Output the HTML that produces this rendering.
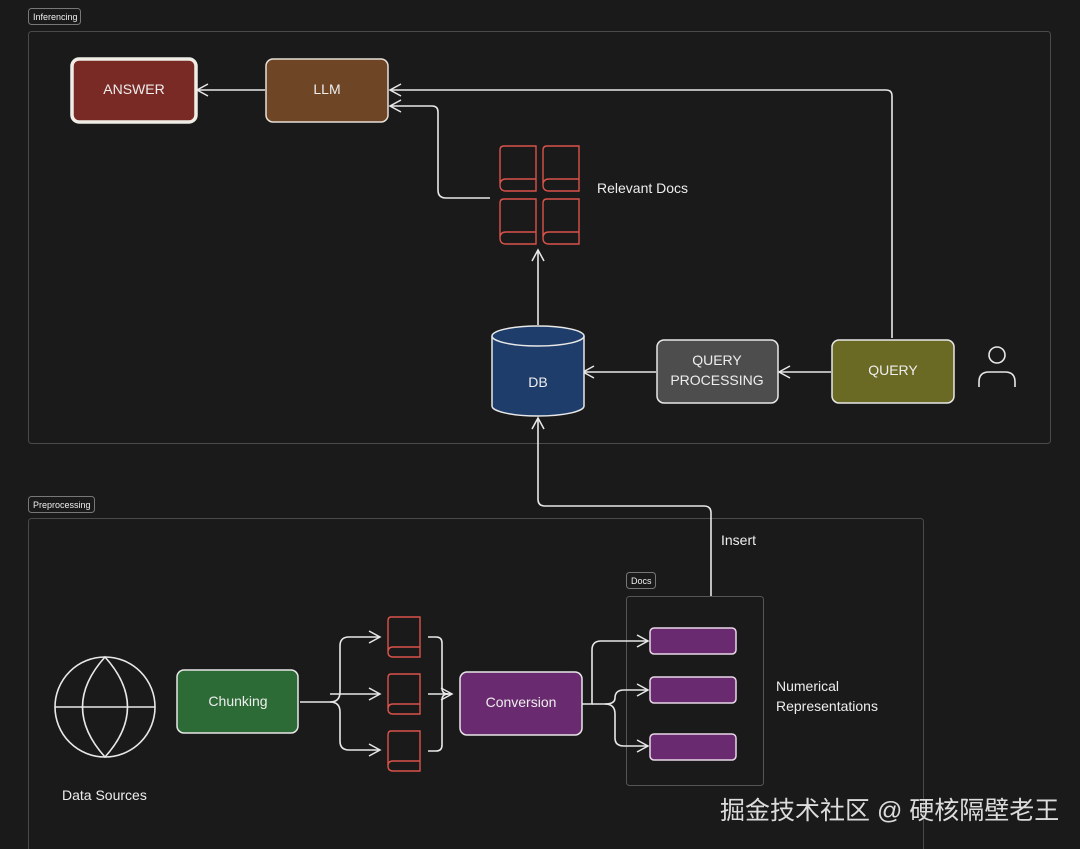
<!DOCTYPE html>
<html><head><meta charset="utf-8"><style>
html,body{margin:0;padding:0;background:#1a1a1a;}
svg{display:block}
text{font-family:"Liberation Sans",sans-serif;fill:#eeeeee}
</style></head><body>
<svg width="1080" height="849" viewBox="0 0 1080 849" xmlns="http://www.w3.org/2000/svg">
<rect width="1080" height="849" fill="#1a1a1a"/>
<defs>
<marker id="ar" markerWidth="14" markerHeight="14" refX="12" refY="7" orient="auto" markerUnits="userSpaceOnUse">
<path d="M1 1 L12 7 L1 13" fill="none" stroke="#e8e8e8" stroke-width="1.5"/>
</marker>
</defs>
<rect x="28.5" y="8.5" width="52" height="16" rx="3" fill="none" stroke="#777" stroke-width="1"/>
<text x="33" y="20" font-size="9">Inferencing</text>
<rect x="28.5" y="31.5" width="1022" height="412" rx="3" fill="none" stroke="#4a4a4a" stroke-width="1"/>
<rect x="28.5" y="496.5" width="66" height="16" rx="3" fill="none" stroke="#777" stroke-width="1"/>
<text x="33" y="508" font-size="9">Preprocessing</text>
<rect x="28.5" y="518.5" width="895" height="340" rx="3" fill="none" stroke="#4a4a4a" stroke-width="1"/>
<rect x="626.5" y="572.5" width="29" height="16" rx="3" fill="none" stroke="#777" stroke-width="1"/>
<text x="631" y="584" font-size="9">Docs</text>
<rect x="626.5" y="596.5" width="137" height="189" rx="3" fill="none" stroke="#555" stroke-width="1"/>

<g fill="none" stroke="#e8e8e8" stroke-width="1.6">
<path d="M265 90 H197" marker-end="url(#ar)"/>
<path d="M892 338 V96 Q892 90 886 90 H390" marker-end="url(#ar)"/>
<path d="M490 198 H446 Q438 198 438 190 V112 Q438 106 432 106 H390" marker-end="url(#ar)"/>
<path d="M538 325 V250" marker-end="url(#ar)"/>
<path d="M656 372 H583" marker-end="url(#ar)"/>
<path d="M831 372 H779" marker-end="url(#ar)"/>
<path d="M711 596 V513 Q711 506 704 506 H545 Q538 506 538 499 V418" marker-end="url(#ar)"/>
<path d="M300 702 H330 Q340 702 340 692 V646 Q340 637 349 637 H380" marker-end="url(#ar)"/>
<path d="M330 702 Q340 702 340 712 V741 Q340 750 349 750 H380" marker-end="url(#ar)"/>
<path d="M330 694 H380" marker-end="url(#ar)"/>
<path d="M428 637 H436 Q442 637 442 643 V688 Q442 694 448 694 H452" marker-end="url(#ar)"/>
<path d="M428 751 H436 Q442 751 442 745 V700 Q442 694 448 694"/>
<path d="M428 694 H452"/>
<path d="M582 704 H592 V650 Q592 641 601 641 H648" marker-end="url(#ar)"/>
<path d="M592 704 H605 Q615 704 615 698 Q615 690 624 690 H648" marker-end="url(#ar)"/>
<path d="M605 704 Q615 704 615 714 V738 Q615 746 624 746 H648" marker-end="url(#ar)"/>
</g>

<rect x="72" y="59" width="124" height="63" rx="7" fill="#7a2a25" stroke="#f0ece6" stroke-width="3.5"/>
<text x="134" y="94" font-size="14" text-anchor="middle">ANSWER</text>
<rect x="266" y="59" width="122" height="63" rx="7" fill="#6e4525" stroke="#e8e0d8" stroke-width="1.5"/>
<text x="327" y="94" font-size="14" text-anchor="middle">LLM</text>
<rect x="657" y="340" width="121" height="63" rx="7" fill="#4d4d4d" stroke="#e8e8e8" stroke-width="1.5"/>
<text x="717" y="365" font-size="14" text-anchor="middle">QUERY</text>
<text x="717" y="385" font-size="14" text-anchor="middle">PROCESSING</text>
<rect x="832" y="340" width="122" height="63" rx="7" fill="#6a6a25" stroke="#e8e8e8" stroke-width="1.5"/>
<text x="893" y="375" font-size="14" text-anchor="middle">QUERY</text>
<path d="M492 336 V406 A46 10 0 0 0 584 406 V336" fill="#1f3d6a" stroke="#e8e8e8" stroke-width="1.5"/>
<ellipse cx="538" cy="336" rx="46" ry="10" fill="#1f3d6a" stroke="#e8e8e8" stroke-width="1.5"/>
<text x="538" y="387" font-size="14" text-anchor="middle">DB</text>
<circle cx="997" cy="355" r="8" fill="none" stroke="#e8e8e8" stroke-width="1.6"/>
<path d="M979 387 V382 Q979 372 989 372 H1005 Q1015 372 1015 382 V387" fill="none" stroke="#e8e8e8" stroke-width="1.6"/>

<g fill="none" stroke="#d9534a" stroke-width="1.4">
<path d="M504 146 H536 V191 H506 Q500 191 500 185 V150 Q500 146 504 146 Z M536 179 H506 Q500 179 500 185"/>
<path d="M547 146 H579 V191 H549 Q543 191 543 185 V150 Q543 146 547 146 Z M579 179 H549 Q543 179 543 185"/>
<path d="M504 199 H536 V244 H506 Q500 244 500 238 V203 Q500 199 504 199 Z M536 232 H506 Q500 232 500 238"/>
<path d="M547 199 H579 V244 H549 Q543 244 543 238 V203 Q543 199 547 199 Z M579 232 H549 Q543 232 543 238"/>
<path d="M391 617 H420 V657 H393 Q388 657 388 652 V621 Q388 617 391 617 Z M420 647 H393 Q388 647 388 652"/>
<path d="M391 674 H420 V714 H393 Q388 714 388 709 V678 Q388 674 391 674 Z M420 704 H393 Q388 704 388 709"/>
<path d="M391 731 H420 V771 H393 Q388 771 388 766 V735 Q388 731 391 731 Z M420 761 H393 Q388 761 388 766"/>
</g>
<text x="597" y="193" font-size="14">Relevant Docs</text>

<g fill="none" stroke="#e8e8e8" stroke-width="1.6">
<circle cx="105" cy="707" r="50"/>
<path d="M55 707 H155"/>
<path d="M105 657 Q60 707 105 757 Q150 707 105 657 Z"/>
</g>
<text x="62" y="800" font-size="14">Data Sources</text>

<rect x="177" y="670" width="121" height="63" rx="7" fill="#2c6b35" stroke="#e8e8e8" stroke-width="1.5"/>
<text x="238" y="706" font-size="14" text-anchor="middle">Chunking</text>
<rect x="460" y="672" width="122" height="63" rx="7" fill="#6a2a70" stroke="#e8e8e8" stroke-width="1.5"/>
<text x="521" y="707" font-size="14" text-anchor="middle">Conversion</text>
<rect x="650" y="628" width="86" height="26" rx="4" fill="#6a2a70" stroke="#e8d8e8" stroke-width="1.5"/>
<rect x="650" y="677" width="86" height="26" rx="4" fill="#6a2a70" stroke="#e8d8e8" stroke-width="1.5"/>
<rect x="650" y="734" width="86" height="26" rx="4" fill="#6a2a70" stroke="#e8d8e8" stroke-width="1.5"/>
<text x="776" y="691" font-size="14">Numerical</text>
<text x="776" y="711" font-size="14">Representations</text>
<text x="721" y="545" font-size="14">Insert</text>

<text x="720" y="819" font-size="25" style="font-family:'Liberation Sans','Noto Sans CJK SC',sans-serif;fill:#dcdcdc">掘金技术社区 @ 硬核隔壁老王</text>
</svg>
</body></html>
